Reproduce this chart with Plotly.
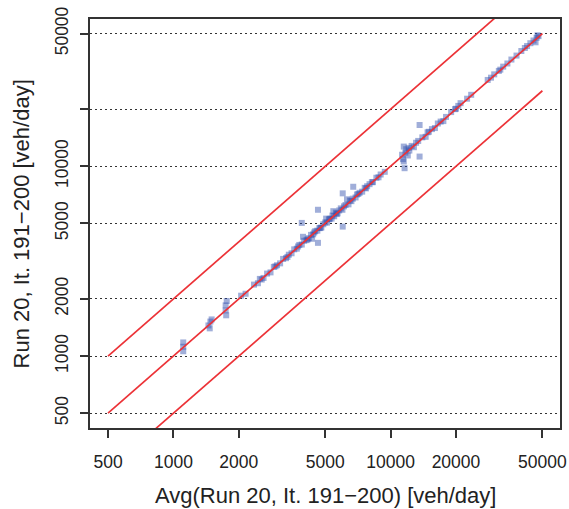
import plotly.graph_objects as go

# Observed volumes (veh/day): x = average of iterations, y = run value
avg_x = [1110, 1110, 1110,
         1450, 1480, 1500, 1470,
         1740, 1740, 1750, 1760,
         2050, 2150, 2350, 2450, 2500, 2600,
         2700, 2800, 2900, 3000, 3100, 3200, 3300, 3400, 3500, 3600,
         3700, 3800, 3900, 3900, 4000, 4100, 4200, 4300, 4400, 4500,
         4600, 4630, 4630, 4700, 4800, 4900, 5000, 5100, 5200, 5350,
         5400, 5500, 5600, 5700, 5800, 5900, 6020, 6020, 6000, 6200,
         6400, 6500, 6730, 6700, 6900, 7000, 7200, 7400, 7600, 7800,
         8000, 8300, 8600, 9000, 9400,
         2550, 2950, 3350, 3750, 4150, 4450, 4750, 5250, 5650, 6100,
         6600, 7100, 7700, 8200, 8800, 5450, 5050, 4350, 6300, 3950,
         11300, 11500, 11500, 11600, 11700, 11800, 12000, 12200, 12500,
         12800, 13100, 13600, 13600, 13400, 14000, 14500, 15000, 15500,
         16000, 16500, 17000, 18000, 19000, 20000, 20500, 21000, 22500,
         23500, 11400, 12100, 14800, 17500, 19800,
         28000, 29000, 30000, 31500, 33000, 34500, 36000, 38000, 40000,
         41500, 44000, 45500, 47000, 48000, 47500, 46500, 32000, 42500]
run_y = [1120, 1060, 1180,
         1450, 1520, 1560, 1400,
         1740, 1850, 1640, 1950,
         2080, 2130, 2380, 2420, 2550, 2580,
         2720, 2760, 2950, 3010, 3080, 3250, 3280, 3420, 3480, 3650,
         3680, 3850, 3870, 5030, 4050, 4080, 4180, 4350, 4380, 4550,
         4580, 5900, 3950, 4720, 4760, 4950, 5060, 5050, 5250, 5300,
         5500, 5450, 5700, 5650, 5850, 6000, 7200, 4810, 5900, 6250,
         6300, 6600, 7800, 6750, 6850, 7100, 7250, 7350, 7700, 7850,
         8050, 8250, 8700, 9050, 9350,
         2530, 2970, 3330, 3780, 4120, 4480, 4730, 5290, 5600, 6150,
         6550, 7150, 7650, 8250, 8750, 5800, 5300, 4150, 6700, 4250,
         11500, 12700, 10600, 9770, 11800, 12300, 11400, 12100, 12800,
         12600, 13300, 16500, 11250, 13600, 14200, 14300, 15200, 15700,
         15900, 16800, 17200, 18200, 19300, 20100, 20800, 21500, 22700,
         23800, 10900, 12500, 15100, 17300, 20000,
         28500, 29300, 30500, 31800, 33500, 34800, 36500, 38300, 40500,
         42000, 44500, 46000, 47500, 48500, 49000, 45000, 32300, 43000]

# Reference lines: y = ratio * x
line_x = [500, 50000]
line_ratios = [2.0, 1.0, 0.5]

tick_vals = [500, 1000, 2000, 5000, 10000, 20000, 50000]
x_tick_text = ["500", "1000", "2000", "5000", "10000", "20000", "50000"]
y_tick_text = ["500", "1000", "2000", "5000", "10000", "", "50000"]

x_title = "Avg(Run 20, It. 191\u2212200) [veh/day]"
y_title = "Run 20, It. 191\u2212200 [veh/day]"

fig = go.Figure()
fig.add_trace(go.Scatter(
    x=avg_x, y=run_y, mode="markers",
    marker=dict(symbol="square", size=6, color="rgba(45,75,170,0.45)",
                line=dict(width=0)),
    showlegend=False, hoverinfo="skip"))
for r in line_ratios:
    fig.add_trace(go.Scatter(
        x=line_x, y=[r * v for v in line_x], mode="lines",
        line=dict(color="#ec3237", width=1.7),
        showlegend=False, hoverinfo="skip"))

font_family = "Liberation Sans, Arial, sans-serif"
fig.update_layout(
    width=569, height=509,
    margin=dict(l=90, r=9, t=19, b=81, autoexpand=False),
    paper_bgcolor="white", plot_bgcolor="white",
    font=dict(family=font_family, color="#222"),
    annotations=[
        dict(text=x_title, xref="paper", yref="paper", x=0.5, y=-0.166,
             xanchor="center", yanchor="middle", showarrow=False,
             font=dict(size=22, color="#222")),
        dict(text=y_title, xref="paper", yref="paper", x=-0.1447, y=0.5,
             xanchor="center", yanchor="middle", showarrow=False,
             textangle=-90, font=dict(size=22, color="#222")),
    ],
)
fig.update_xaxes(
    type="log", range=[2.616, 4.780], automargin=False,
    tickvals=tick_vals, ticktext=x_tick_text,
    tickfont=dict(size=17.5, color="#222"), ticklabelstandoff=9,
    ticks="outside", ticklen=8, tickwidth=1.5, tickcolor="#333",
    showline=True, linecolor="#333", linewidth=1.5, mirror=True,
    showgrid=False, zeroline=False,
)
fig.update_yaxes(
    type="log", range=[2.621, 4.776], automargin=False,
    tickvals=tick_vals, ticktext=y_tick_text, tickangle=-90,
    tickfont=dict(size=17.5, color="#222"), ticklabelstandoff=5,
    ticks="outside", ticklen=8, tickwidth=1.5, tickcolor="#333",
    showline=True, linecolor="#333", linewidth=1.5, mirror=True,
    showgrid=True, gridcolor="#333", gridwidth=1, griddash="1.5px,3.5px",
    zeroline=False,
)

fig.write_html("out.html")
